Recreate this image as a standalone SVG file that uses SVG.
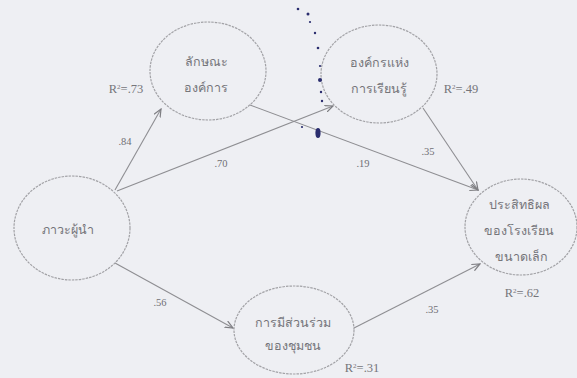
<svg xmlns="http://www.w3.org/2000/svg" width="577" height="378" viewBox="0 0 577 378">
<style>
.bg{fill:#eeeff3}
.node ellipse{fill:none;stroke:#a2a2a6;stroke-width:1.2;stroke-dasharray:2.5 1}
.node text{font-family:"Liberation Serif","Noto Sans",serif;font-size:12.5px;fill:#75757a;text-anchor:middle}
.lbl{font-family:"Liberation Serif",serif;font-size:10.5px;fill:#707075;text-anchor:middle}
.conn line{stroke:#8e8e92;stroke-width:1.1;marker-end:url(#arr)}
.ink{fill:#2a2d6e}
</style>
<defs>
<marker id="arr" markerWidth="9" markerHeight="8" refX="8" refY="4" orient="auto" markerUnits="userSpaceOnUse">
<path d="M0,0.5 L8,4 L0,7.5" fill="none" stroke="#7e7e82" stroke-width="1.2"/>
</marker>
</defs>
<rect class="bg" x="0" y="0" width="577" height="378"/>

<g id="connectors" class="conn">
<line x1="115" y1="190" x2="161" y2="109"/>
<line x1="117" y1="191" x2="333" y2="106"/>
<line x1="250" y1="105" x2="478" y2="190"/>
<line x1="423" y1="108" x2="478" y2="190"/>
<line x1="115" y1="263" x2="233" y2="328"/>
<line x1="354" y1="328" x2="480" y2="264"/>
</g>

<g id="path-labels">
<text class="lbl" x="125" y="145">.84</text>
<text class="lbl" x="221" y="167">.70</text>
<text class="lbl" x="363" y="167">.19</text>
<text class="lbl" x="428" y="155">.35</text>
<text class="lbl" x="160" y="306">.56</text>
<text class="lbl" x="432" y="313">.35</text>
</g>

<g id="node-leadership" class="node">
<ellipse cx="72" cy="228" rx="58" ry="52"/>
<text x="68" y="234">ภาวะผู้นำ</text>
</g>

<g id="node-org-character" class="node">
<ellipse cx="208" cy="71" rx="58" ry="49"/>
<text x="206" y="66">ลักษณะ</text>
<text x="206" y="92">องค์การ</text>
<text class="lbl" x="126" y="93">R<tspan dy="-4" font-size="7">2</tspan><tspan dy="4">=.73</tspan></text>
</g>

<g id="node-learning-org" class="node">
<ellipse cx="379" cy="74" rx="58" ry="49"/>
<text x="379" y="67">องค์กรแห่ง</text>
<text x="379" y="93">การเรียนรู้</text>
<text class="lbl" x="461" y="93">R<tspan dy="-4" font-size="7">2</tspan><tspan dy="4">=.49</tspan></text>
</g>

<g id="node-effectiveness" class="node">
<ellipse cx="521" cy="227" rx="56" ry="48"/>
<text x="519" y="209">ประสิทธิผล</text>
<text x="519" y="235">ของโรงเรียน</text>
<text x="521" y="261">ขนาดเล็ก</text>
<text class="lbl" x="522" y="297">R<tspan dy="-4" font-size="7">2</tspan><tspan dy="4">=.62</tspan></text>
</g>

<g id="node-participation" class="node">
<ellipse cx="294" cy="330" rx="60" ry="44"/>
<text x="293" y="327">การมีส่วนร่วม</text>
<text x="293" y="350">ของชุมชน</text>
<text class="lbl" x="362" y="372">R<tspan dy="-4" font-size="7">2</tspan><tspan dy="4">=.31</tspan></text>
</g>

<g id="scan-marks">
<circle class="ink" cx="298" cy="9" r="1.3"/>
<circle class="ink" cx="308" cy="14" r="1.5"/>
<circle class="ink" cx="310" cy="22" r="1.1"/>
<circle class="ink" cx="315" cy="33" r="1.2"/>
<circle class="ink" cx="318" cy="48" r="1.3"/>
<circle class="ink" cx="320" cy="66" r="1.1"/>
<circle class="ink" cx="320" cy="80" r="2"/>
<circle class="ink" cx="321" cy="92" r="1.2"/>
<circle class="ink" cx="322" cy="101" r="1.2"/>
<circle class="ink" cx="302" cy="127" r="1.1"/>
<ellipse class="ink" cx="318" cy="133" rx="2.6" ry="5"/>
</g>
</svg>
